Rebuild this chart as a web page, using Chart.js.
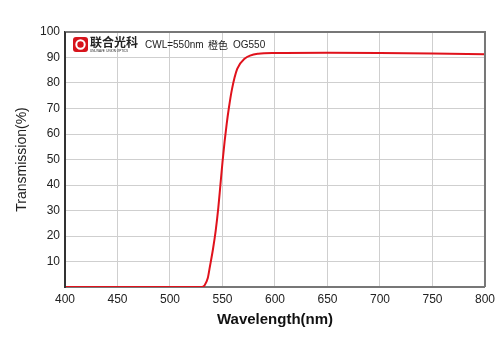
<!DOCTYPE html>
<html>
<head>
<meta charset="utf-8">
<script src="https://cdn.jsdelivr.net/npm/chart.js@4"></script>
<style>
  html, body { margin: 0; padding: 0; background: #fff; }
  #wrap { width: 500px; height: 353px; }
</style>
</head>
<body>
<div id="wrap"><canvas id="chart"></canvas></div>
<script>
// wavelength in nm, transmission in %
const wavelengths = [400, 500, 525, 530, 533, 536, 538, 541, 543.5, 546, 548, 550, 552, 554, 556, 559, 564, 571, 584, 600, 650, 700, 750, 800];
const transmission = [0, 0, 0, 0, 0.7, 3.5, 8, 15, 22, 31, 40, 49, 57, 64, 70, 77.5, 85.5, 89.5, 91.5, 91.8, 91.9, 91.8, 91.6, 91.3];
const xTicks = [400, 450, 500, 550, 600, 650, 700, 750, 800];
const yTicks = [10, 20, 30, 40, 50, 60, 70, 80, 90, 100];

let points = [];
wavelengths.forEach(function(w, i) {
  points.push({ x: w, y: transmission[i] });
});

const fontFamily = "'Liberation Sans', Arial, sans-serif";

// frame round the plot, plus logo and note text
const decor = {
  id: 'decor',
  afterDraw(chart) {
    const ctx = chart.ctx;
    const a = chart.chartArea;
    ctx.save();
    ctx.strokeStyle = '#777';
    ctx.lineWidth = 2;
    ctx.beginPath();
    ctx.moveTo(a.left, a.top);
    ctx.lineTo(a.right, a.top);
    ctx.lineTo(a.right, a.bottom);
    ctx.stroke();
    ctx.strokeStyle = '#333';
    ctx.beginPath();
    ctx.moveTo(a.left, a.top);
    ctx.lineTo(a.left, a.bottom);
    ctx.stroke();

    // logo
    ctx.fillStyle = '#d7141c';
    ctx.beginPath();
    ctx.roundRect(73, 37, 15, 15, 3);
    ctx.fill();
    ctx.strokeStyle = '#fff';
    ctx.lineWidth = 2;
    ctx.beginPath();
    ctx.arc(80.5, 44.5, 4.2, 0, Math.PI * 2);
    ctx.stroke();
    ctx.fillStyle = '#222';
    ctx.font = "bold 12px 'Noto Sans CJK SC', sans-serif";
    ctx.textBaseline = 'middle';
    ctx.fillText('联合光科', 90, 42);
    ctx.font = "3px " + fontFamily;
    ctx.fillText('UNI-WAVE  UNION OPTICS', 90, 51);

    ctx.font = "10px " + fontFamily;
    ctx.fillStyle = '#222';
    ctx.fillText('CWL=550nm', 145, 45);
    ctx.font = "10px 'Noto Sans CJK SC', sans-serif";
    ctx.fillText('橙色', 208, 45);
    ctx.font = "10px " + fontFamily;
    ctx.fillText('OG550', 233, 45);
    ctx.restore();
  }
};

var data = {
  datasets: [{
    label: 'OG550',
    data: points,
    borderColor: '#e0121c',
    borderWidth: 2,
    pointRadius: 0,
    fill: false,
    cubicInterpolationMode: 'monotone'
  }]
};

var options = {
  responsive: true,
  maintainAspectRatio: false,
  animation: false,
  layout: { padding: { top: 32, right: 15, left: 14, bottom: 22 } },
  plugins: {
    legend: { display: false },
    tooltip: { enabled: false }
  },
  scales: {
    x: {
      type: 'linear',
      min: 400,
      max: 800,
      afterBuildTicks: function(scale) {
        scale.ticks = xTicks.map(function(v) { return { value: v }; });
      },
      afterFit: function(scale) { scale.height = 44; },
      grid: { color: '#cfcfcf', lineWidth: 1, drawTicks: false },
      border: { color: '#777', width: 2 },
      ticks: { color: '#222', padding: 5, maxRotation: 0, font: { family: fontFamily, size: 12 } },
      title: {
        display: true,
        text: 'Wavelength(nm)',
        color: '#111',
        padding: { top: 4, bottom: 2 },
        font: { family: fontFamily, size: 15, weight: 'bold' }
      }
    },
    y: {
      min: 0,
      max: 100,
      afterBuildTicks: function(scale) {
        scale.ticks = yTicks.map(function(v) { return { value: v }; });
      },
      afterFit: function(scale) { scale.width = 51; },
      grid: { color: '#cfcfcf', lineWidth: 1, drawTicks: false },
      border: { color: '#333', width: 2 },
      ticks: { color: '#222', padding: 5, font: { family: fontFamily, size: 12 } },
      title: {
        display: true,
        text: 'Transmission(%)',
        color: '#222',
        padding: { top: 0, bottom: 4 },
        font: { family: fontFamily, size: 14 }
      }
    }
  }
};

new Chart('chart', {
  type: 'line',
  data: data,
  options: options,
  plugins: [decor]
});
</script>
</body>
</html>
